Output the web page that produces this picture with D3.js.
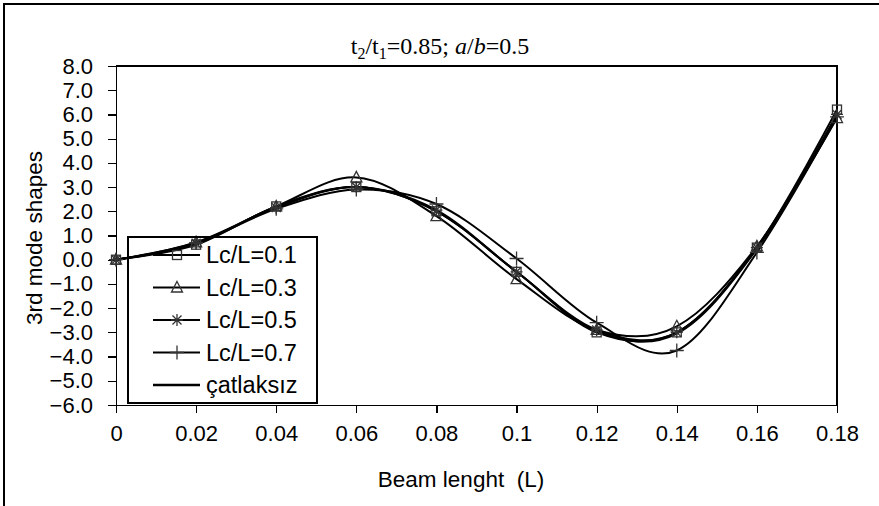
<!DOCTYPE html>
<meta charset="utf-8">
<style>
body { margin:0; background:#fff; }
svg { display:block; }
.axis path, .axis line { stroke:#000; stroke-width:1.2px; shape-rendering:crispEdges; }
.axis text { font-family:"Liberation Sans", Arial, sans-serif; font-size:22px; fill:#000; }
.ser { fill:none; stroke:#000; stroke-width:2px; }
.lab { font-family:"Liberation Sans", Arial, sans-serif; font-size:22.5px; fill:#000; }
</style>
<body>
<script src="https://d3js.org/d3.v7.min.js"></script>
<script>
// data
var xVals  = [0, 0.02, 0.04, 0.06, 0.08, 0.1, 0.12, 0.14, 0.16, 0.18];
var lc01   = [0, 0.62, 2.2, 3.0, 2.0, -0.5, -3.0, -3.0, 0.5, 6.2];
var lc03   = [0, 0.72, 2.2, 3.4, 1.8, -0.8, -2.9, -2.75, 0.55, 5.85];
var lc05   = [0, 0.68, 2.15, 3.0, 2.05, -0.5, -2.9, -3.0, 0.5, 6.0];
var lc07   = [0, 0.7, 2.1, 2.9, 2.3, 0.05, -2.6, -3.75, 0.3, 5.9];
var intact = [0, 0.66, 2.18, 3.0, 2.0, -0.5, -2.95, -3.05, 0.45, 6.0];
var seriesNames = ["Lc/L=0.1", "Lc/L=0.3", "Lc/L=0.5", "Lc/L=0.7", "çatlaksız"];
var seriesMarks = ["square", "triangle", "star", "plus", "none"];
var xTicks = [0, 0.02, 0.04, 0.06, 0.08, 0.1, 0.12, 0.14, 0.16, 0.18];
var yTicks = [8, 7, 6, 5, 4, 3, 2, 1, 0, -1, -2, -3, -4, -5, -6];

var W = 879, H = 506;
var margin = {top: 66, right: 42, bottom: 101, left: 116},
    width = W - margin.left - margin.right,
    height = H - margin.top - margin.bottom;

var svg = d3.select("body").append("svg")
    .attr("width", W).attr("height", H);

// outer frame (left and top edges only are visible)
svg.append("path")
    .attr("d", "M4," + H + "V4H" + W)
    .attr("fill", "none").attr("stroke", "#000").attr("stroke-width", 2);

var g = svg.append("g")
    .attr("transform", "translate(" + margin.left + "," + margin.top + ")");

var x = d3.scaleLinear().domain([0, 0.18]).range([0, width]);
var y = d3.scaleLinear().domain([-6, 8]).range([height, 0]);

// plot area border (top/right)
g.append("path")
    .attr("d", "M0,0H" + width + "V" + height)
    .attr("fill", "none").attr("stroke", "#000").attr("stroke-width", 1.2)
    .style("shape-rendering", "crispEdges");

g.append("g")
    .attr("class", "axis")
    .attr("transform", "translate(0," + height + ")")
    .call(d3.axisBottom(x).tickValues(xTicks).tickSize(8).tickSizeOuter(0)
          .tickFormat(function(d) { return d === 0 ? "0" : String(+d.toFixed(2)); }))
    .selectAll("text").attr("dy", "1.15em");

g.append("g")
    .attr("class", "axis")
    .call(d3.axisLeft(y).tickValues(yTicks).tickSize(8).tickSizeOuter(0)
          .tickFormat(d3.format(".1f")))
    .selectAll("text").attr("x", -23);

// axis titles
svg.append("text").attr("class", "lab")
    .attr("x", 461).attr("y", 487).attr("text-anchor", "middle")
    .attr("xml:space", "preserve")
    .text("Beam lenght  (L)");

svg.append("text").attr("class", "lab")
    .attr("transform", "translate(42,238) rotate(-90)")
    .attr("text-anchor", "middle")
    .text("3rd mode shapes");

// title
var title = svg.append("text")
    .attr("x", 440).attr("y", 54).attr("text-anchor", "middle")
    .style("font-family", "'Liberation Serif', 'Times New Roman', serif")
    .style("font-size", "24px");
title.append("tspan").text("t");
title.append("tspan").attr("dy", 5).style("font-size", "16px").text("2");
title.append("tspan").attr("dy", -5).text("/t");
title.append("tspan").attr("dy", 5).style("font-size", "16px").text("1");
title.append("tspan").attr("dy", -5).text("=0.85; ");
title.append("tspan").style("font-style", "italic").text("a");
title.append("tspan").text("/");
title.append("tspan").style("font-style", "italic").text("b");
title.append("tspan").text("=0.5");

// series
var allSeries = [lc01, lc03, lc05, lc07, intact];
var line = d3.line()
    .x(function(d, i) { return x(xVals[i]); })
    .y(function(d) { return y(d); })
    .curve(d3.curveCardinal.tension(0));

allSeries.forEach(function(s, k) {
  g.append("path").datum(s)
    .attr("class", "ser")
    .attr("stroke-width", k === 4 ? 2.6 : 2)
    .attr("d", line);
});

function drawMarker(sel, type, cx, cy) {
  var c = "#333";
  if (type === "square") {
    sel.append("rect").attr("x", cx - 4.5).attr("y", cy - 4.5)
      .attr("width", 9).attr("height", 9)
      .attr("fill", "none").attr("stroke", c).attr("stroke-width", 1.3);
  } else if (type === "triangle") {
    sel.append("path")
      .attr("d", "M" + cx + "," + (cy - 6) + "L" + (cx + 5.5) + "," + (cy + 4.5) + "L" + (cx - 5.5) + "," + (cy + 4.5) + "Z")
      .attr("fill", "none").attr("stroke", c).attr("stroke-width", 1.3);
  } else if (type === "star") {
    sel.append("path")
      .attr("d", "M" + (cx - 6) + "," + cy + "H" + (cx + 6) +
                 "M" + (cx - 4.5) + "," + (cy - 4.5) + "L" + (cx + 4.5) + "," + (cy + 4.5) +
                 "M" + (cx + 4.5) + "," + (cy - 4.5) + "L" + (cx - 4.5) + "," + (cy + 4.5) +
                 "M" + cx + "," + (cy - 6) + "V" + (cy + 6))
      .attr("fill", "none").attr("stroke", c).attr("stroke-width", 1.3);
  } else if (type === "plus") {
    sel.append("path")
      .attr("d", "M" + (cx - 7) + "," + cy + "H" + (cx + 7) + "M" + cx + "," + (cy - 7) + "V" + (cy + 7))
      .attr("fill", "none").attr("stroke", c).attr("stroke-width", 1.3);
  }
}

allSeries.forEach(function(s, k) {
  if (seriesMarks[k] === "none") return;
  var mg = g.append("g");
  s.forEach(function(v, i) { drawMarker(mg, seriesMarks[k], x(xVals[i]), y(v)); });
});

// legend (no fill, curves show through like the original)
var leg = svg.append("g").attr("transform", "translate(128,237)");
leg.append("rect").attr("width", 189).attr("height", 166)
  .attr("fill", "none").attr("stroke", "#000").attr("stroke-width", 2);
seriesNames.forEach(function(name, k) {
  var cy = 18 + k * 32.5;
  leg.append("line").attr("x1", 25).attr("x2", 72).attr("y1", cy).attr("y2", cy)
    .attr("stroke", "#000").attr("stroke-width", k === 4 ? 2.6 : 2);
  drawMarker(leg, seriesMarks[k], 49, cy);
  leg.append("text").attr("class", "lab")
    .attr("x", 78).attr("y", cy + 8)
    .style("font-size", "23.5px")
    .text(name);
});
</script>
</body>
